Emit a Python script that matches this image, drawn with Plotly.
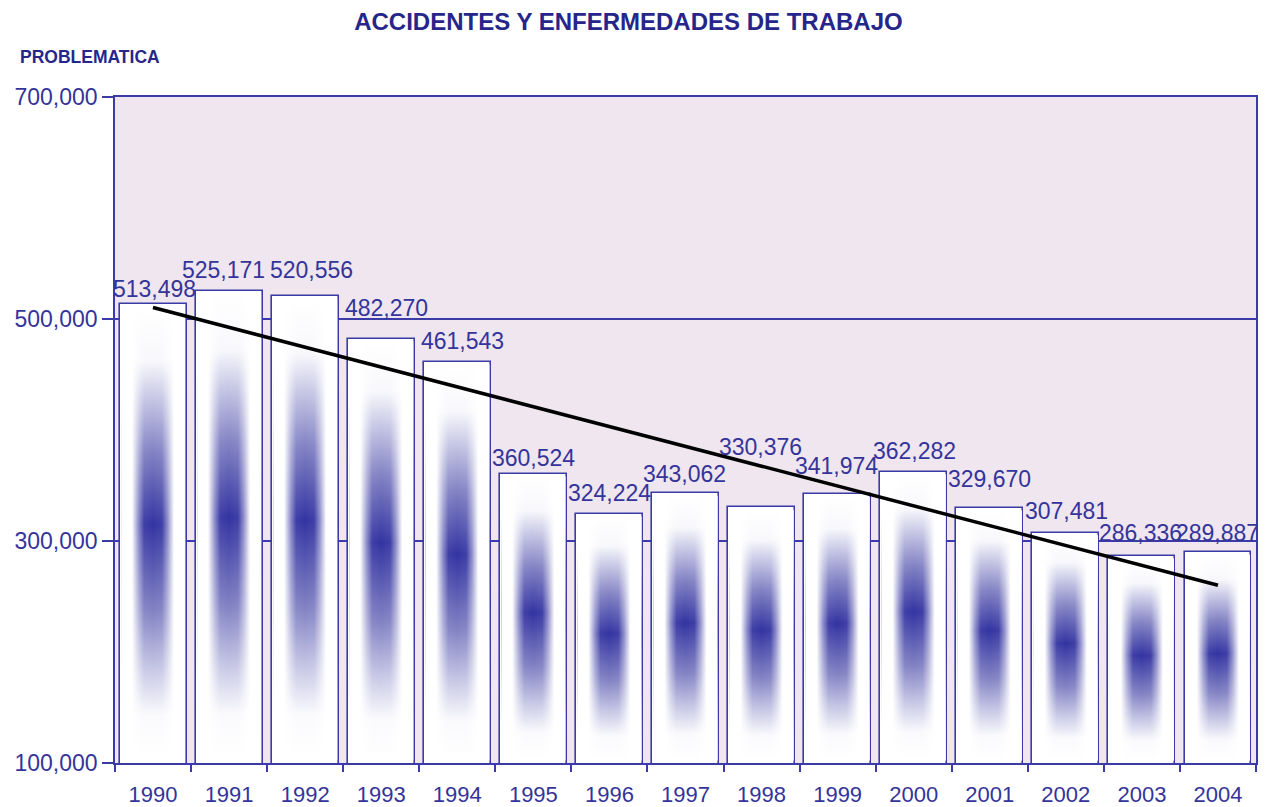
import plotly.graph_objects as go
import numpy as np

years = ["1990", "1991", "1992", "1993", "1994", "1995", "1996", "1997",
         "1998", "1999", "2000", "2001", "2002", "2003", "2004"]
values = [513498, 525171, 520556, 482270, 461543, 360524, 324224, 343062,
          330376, 341974, 362282, 329670, 307481, 286336, 289887]
y_ticks = [100000, 300000, 500000, 700000]

# label placement tweaks (pixels) -- styling only
label_dx = [1, -6, 6, 5, 5, 0, 0, -1, -1, -1, 1, 0, 1, -1, 0]
label_dy = [15, 21, 26, 31, 21, 16, 21, 19, 60, 28, 21, 29, 22, 23, 19]

NAVY = "#3B3BA8"
TXT = "#34349A"
TITLE = "#26268A"
FONT = "Liberation Sans, Arial"
BAR_W = 0.88
Y0, Y1 = 100000, 700000

# page has an 8px body margin, so the figure is sized to fit the window
FIG_W, FIG_H = 1258, 799

xs = np.arange(len(years))
fig = go.Figure()

# bar outlines (white fill)
fig.add_trace(go.Bar(x=xs, y=values, width=BAR_W,
                     marker=dict(color="white", line=dict(color=NAVY, width=1.6)),
                     hoverinfo="skip", showlegend=False))

vscale = [[0, "rgb(255,255,255)"], [0.1, "rgb(250,250,253)"], [0.2, "rgb(200,200,230)"],
          [0.33, "rgb(130,130,196)"], [0.52, "rgb(52,52,162)"], [0.68, "rgb(130,130,196)"],
          [0.8, "rgb(200,200,230)"], [0.88, "rgb(248,248,252)"], [1, "rgb(255,255,255)"]]
hscale = [[0, "rgba(255,255,255,1)"], [0.17, "rgba(255,255,255,1)"],
          [0.27, "rgba(255,255,255,0.45)"], [0.36, "rgba(255,255,255,0.05)"],
          [0.5, "rgba(255,255,255,0)"], [0.64, "rgba(255,255,255,0.05)"],
          [0.73, "rgba(255,255,255,0.45)"], [0.83, "rgba(255,255,255,1)"],
          [1, "rgba(255,255,255,1)"]]

ix = 0.02
iy = 2200
for i, v in enumerate(values):
    x0, x1 = i - BAR_W / 2 + ix, i + BAR_W / 2 - ix
    yb, yt = Y0 + iy, v - iy
    px = [x0, x1, x1, x0, x0]
    py = [yb, yb, yt, yt, yb]
    fig.add_trace(go.Scatter(x=px, y=py, mode="lines", fill="toself",
                             line=dict(width=0),
                             fillgradient=dict(type="vertical", colorscale=vscale),
                             hoverinfo="skip", showlegend=False))
    fig.add_trace(go.Scatter(x=px, y=py, mode="lines", fill="toself",
                             line=dict(width=0),
                             fillgradient=dict(type="horizontal", colorscale=hscale),
                             hoverinfo="skip", showlegend=False))

# linear trend line
slope, intercept = np.polyfit(xs, values, 1)
fig.add_trace(go.Scatter(x=[xs[0], xs[-1]], y=[intercept, intercept + slope * xs[-1]],
                         mode="lines", line=dict(color="black", width=3.5),
                         hoverinfo="skip", showlegend=False))

for i, v in enumerate(values):
    fig.add_annotation(x=i, y=v, text=f"{v:,}", showarrow=False,
                       xanchor="center", yanchor="middle",
                       xshift=label_dx[i], yshift=label_dy[i],
                       font=dict(family=FONT, size=23, color=TXT))

fig.add_annotation(xref="paper", yref="paper", x=-0.085, y=1.06,
                   text="<b>PROBLEMATICA</b>", showarrow=False,
                   xanchor="left", yanchor="middle",
                   font=dict(family=FONT, size=17.5, color=TITLE))

fig.update_layout(
    width=FIG_W, height=FIG_H,
    margin=dict(l=107, r=10, t=89, b=44),
    paper_bgcolor="white",
    plot_bgcolor="#EFE6F0",
    bargap=0,
    title=dict(text="<b>ACCIDENTES Y ENFERMEDADES DE TRABAJO</b>",
               x=0.4932, xanchor="center", y=0.9825, yanchor="middle",
               font=dict(family=FONT, size=24, color=TITLE)),
    showlegend=False,
)
fig.update_xaxes(
    range=[-0.5, len(years) - 0.5], automargin=False,
    tickmode="array", tickvals=list(xs), ticktext=years,
    ticks="", showgrid=False, zeroline=False,
    showline=True, linecolor=NAVY, linewidth=1.6, mirror=True,
    tickfont=dict(family=FONT, size=22, color=TXT),
    ticklabelstandoff=11,
    minor=dict(tickmode="array", tickvals=[i - 0.5 for i in range(len(years) + 1)],
               ticks="outside", ticklen=7, tickcolor=NAVY, tickwidth=1.6, showgrid=False),
)
fig.update_yaxes(
    range=[Y0, Y1], automargin=False,
    tickmode="array", tickvals=y_ticks, tickformat=",",
    ticks="outside", ticklen=11, tickcolor=NAVY, tickwidth=1.6,
    showgrid=True, gridcolor=NAVY, gridwidth=1.5, zeroline=False,
    showline=True, linecolor=NAVY, linewidth=1.6, mirror=True,
    tickfont=dict(family=FONT, size=23, color=TXT),
)

fig.write_html("out.html")
